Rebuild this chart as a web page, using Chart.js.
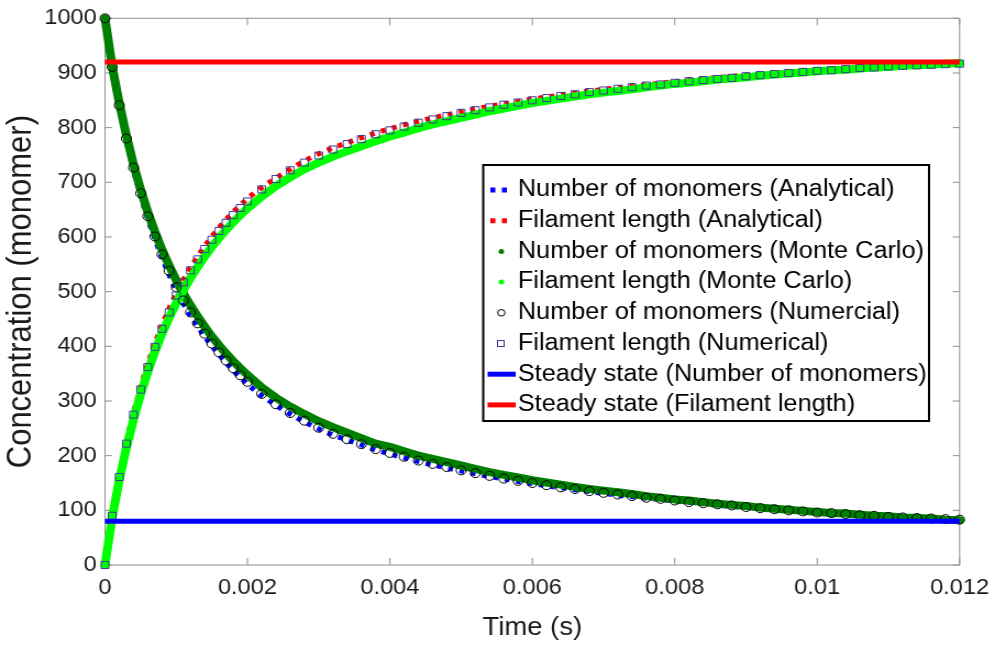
<!DOCTYPE html>
<html>
<head>
<meta charset="utf-8">
<script src="https://cdn.jsdelivr.net/npm/chart.js@4.4.1/dist/chart.umd.min.js"></script>
<style>
  html, body { margin: 0; padding: 0; background: #fff; overflow: hidden; }
  canvas { display: block; }
</style>
</head>
<body>
<!-- drawn narrower and stretched by css: the reference text is wide -->
<canvas id="chart" width="905" height="646" style="width:995px;height:646px"></canvas>
<script>
// time grid of the numerical / Monte Carlo series (s)
const timeSec = [
  0, 0.0001, 0.0002, 0.0003, 0.0004, 0.0005, 0.0006, 0.0007, 0.0008, 0.0009, 0.001,
  0.0011, 0.0012, 0.0013, 0.0014, 0.0015, 0.0016, 0.0017, 0.0018, 0.0019, 0.002,
  0.0022, 0.0024, 0.0026, 0.0028, 0.003, 0.0032, 0.0034, 0.0036, 0.0038, 0.004,
  0.0042, 0.0044, 0.0046, 0.0048, 0.005, 0.0052, 0.0054, 0.0056, 0.0058, 0.006,
  0.0062, 0.0064, 0.0066, 0.0068, 0.007, 0.0072, 0.0074, 0.0076, 0.0078, 0.008,
  0.0082, 0.0084, 0.0086, 0.0088, 0.009, 0.0092, 0.0094, 0.0096, 0.0098, 0.01,
  0.0102, 0.0104, 0.0106, 0.0108, 0.011, 0.0112, 0.0114, 0.0116, 0.0118, 0.012
];

const monomersNumerical = [
  1000, 911, 841, 780, 727, 680, 638, 601, 568, 538, 508,
  484, 462, 442, 423, 405, 389, 374, 360, 347, 335,
  313, 294, 278, 264, 251, 240, 230, 221, 212, 205,
  198, 191, 185, 179, 173, 168, 163, 158, 154, 150,
  146, 142, 139, 135, 132, 129, 126, 123, 121, 118,
  115, 113, 111, 109, 106, 104, 102, 100, 98, 96,
  95, 93, 91, 90, 88, 87, 86, 85, 84, 83
];
const filamentNumerical = [
  0, 90, 161, 222, 275, 321, 362, 399, 432, 462, 493,
  517, 539, 559, 578, 595, 611, 626, 640, 653, 665,
  687, 706, 722, 736, 749, 760, 770, 779, 788, 795,
  802, 809, 815, 821, 827, 832, 837, 842, 846, 850,
  854, 858, 861, 865, 868, 871, 874, 877, 879, 882,
  885, 887, 889, 891, 894, 896, 898, 900, 902, 904,
  905, 907, 909, 910, 912, 913, 914, 915, 916, 917
];

const monomersMonteCarlo = [
  1000, 913, 845, 786, 733, 687, 646, 610, 577, 548, 521,
  497, 475, 455, 436, 418, 402, 387, 373, 360, 348,
  325, 306, 290, 276, 263, 252, 242, 232, 222, 216,
  208, 200, 194, 188, 182, 176, 170, 165, 160, 155,
  151, 147, 143, 139, 136, 133, 130, 126, 123, 120,
  118, 115, 112, 110, 108, 105, 103, 101, 99, 97,
  95, 94, 92, 90, 89, 87, 86, 85, 83, 82
];
const filamentMonteCarlo = [
  0, 86, 155, 214, 266, 312, 353, 390, 423, 452, 479,
  503, 525, 545, 564, 582, 598, 613, 627, 640, 652,
  674, 693, 709, 724, 736, 747, 757, 766, 775, 784,
  791, 799, 806, 812, 818, 824, 830, 835, 840, 845,
  849, 853, 857, 861, 864, 867, 870, 874, 877, 880,
  882, 885, 888, 890, 892, 895, 897, 899, 901, 903,
  905, 906, 908, 910, 911, 913, 914, 915, 917, 918
];

// analytical curves, coarser grid
const timeAnalytical = [0, 0.0001, 0.0002, 0.0003, 0.0005, 0.0007, 0.001, 0.0013, 0.0016, 0.002, 0.0025,
  0.003, 0.0035, 0.004, 0.005, 0.006, 0.007, 0.008, 0.009, 0.01, 0.011, 0.012];
const monomersAnalytical = [1000, 909, 838, 777, 676, 597, 503, 437, 385, 331, 284,
  249, 224, 203, 172, 149, 131, 117, 105, 96, 88, 82];
const filamentAnalytical = [0, 91, 163, 224, 325, 404, 497, 564, 617, 670, 716,
  752, 777, 798, 829, 852, 870, 884, 896, 905, 912, 918];

const timeRange = [0, 0.012];
const steadyMonomers = [80, 80];
const steadyFilament = [920, 920];

const xTickLabels = ['0', '0.002', '0.004', '0.006', '0.008', '0.01', '0.012'];
const yTickLabels = ['0', '100', '200', '300', '400', '500', '600', '700', '800', '900', '1000'];

const FONT = '"Liberation Sans", Arial, Helvetica, sans-serif';
const axisGray = '#8f8f8f';
const textColor = '#1a1a1a';

const pts = (xs, ys) => xs.map((t, i) => ({ x: t, y: ys[i] }));

// MATLAB style box with inward ticks on all four sides
const boxTicks = {
  id: 'boxTicks',
  beforeDatasetsDraw(chart) {
    const { ctx, chartArea: a, scales: { x, y } } = chart;
    const len = 7;
    ctx.save();
    ctx.strokeStyle = axisGray;
    ctx.lineWidth = 1;
    ctx.beginPath();
    ctx.rect(a.left, a.top, a.right - a.left, a.bottom - a.top);
    x.ticks.forEach(t => {
      const px = x.getPixelForValue(t.value);
      ctx.moveTo(px, a.bottom); ctx.lineTo(px, a.bottom - len);
      ctx.moveTo(px, a.top); ctx.lineTo(px, a.top + len);
    });
    y.ticks.forEach(t => {
      const py = y.getPixelForValue(t.value);
      ctx.moveTo(a.left, py); ctx.lineTo(a.left + len * 0.9, py);
      ctx.moveTo(a.right, py); ctx.lineTo(a.right - len * 0.9, py);
    });
    ctx.stroke();
    ctx.restore();
  }
};

// legend box drawn by hand so it can sit where MATLAB put it
const boxLegend = {
  id: 'boxLegend',
  afterDraw(chart) {
    const ctx = chart.ctx;
    const left = 439.5, top = 165, right = 845, bottom = 421;
    const symX = 455, textX = 471, row0 = 190, rowGap = 30.7;
    ctx.save();
    ctx.fillStyle = '#fff';
    ctx.fillRect(left, top, right - left, bottom - top);
    ctx.strokeStyle = '#000';
    ctx.lineWidth = 2;
    ctx.strokeRect(left, top, right - left, bottom - top);
    ctx.font = '23px ' + FONT;
    ctx.textBaseline = 'middle';
    chart.data.datasets.forEach((ds, i) => {
      const yc = row0 + i * rowGap;
      ctx.save();
      if (ds.legendKind === 'dots') {
        ctx.strokeStyle = ds.borderColor;
        ctx.lineWidth = 5;
        ctx.setLineDash([4.5, 6]);
        ctx.beginPath(); ctx.moveTo(446, yc); ctx.lineTo(461.5, yc); ctx.stroke();
      } else if (ds.legendKind === 'dot') {
        ctx.fillStyle = ds.borderColor;
        ctx.beginPath(); ctx.arc(symX + 1, yc, 2.5, 0, Math.PI * 2); ctx.fill();
      } else if (ds.legendKind === 'circle') {
        ctx.strokeStyle = ds.borderColor; ctx.lineWidth = 1;
        ctx.beginPath(); ctx.arc(symX + 1, yc, 3.3, 0, Math.PI * 2); ctx.stroke();
      } else if (ds.legendKind === 'square') {
        ctx.strokeStyle = ds.borderColor; ctx.lineWidth = 1;
        ctx.strokeRect(symX - 2.5, yc - 3, 6, 6);
      } else {
        ctx.strokeStyle = ds.borderColor; ctx.lineWidth = 5;
        ctx.beginPath(); ctx.moveTo(443.5, yc); ctx.lineTo(469, yc); ctx.stroke();
      }
      ctx.restore();
      ctx.fillStyle = '#000';
      ctx.fillText(ds.label, textX, yc);
    });
    ctx.restore();
  }
};

new Chart(document.getElementById('chart'), {
  type: 'scatter',
  data: {
    datasets: [
      {
        label: 'Number of monomers (Analytical)', legendKind: 'dots',
        data: pts(timeAnalytical, monomersAnalytical), showLine: true,
        borderColor: '#0000ff', borderWidth: 5, borderDash: [4.5, 6], pointRadius: 0,
        cubicInterpolationMode: 'monotone', order: 8
      },
      {
        label: 'Filament length (Analytical)', legendKind: 'dots',
        data: pts(timeAnalytical, filamentAnalytical), showLine: true,
        borderColor: '#ff0000', borderWidth: 5, borderDash: [4.5, 6], pointRadius: 0,
        cubicInterpolationMode: 'monotone', order: 7
      },
      {
        label: 'Number of monomers (Monte Carlo)', legendKind: 'dot',
        data: pts(timeSec, monomersMonteCarlo), showLine: true,
        borderColor: '#008000', borderWidth: 8, borderJoinStyle: 'round', borderCapStyle: 'round',
        pointRadius: 0, order: 6
      },
      {
        label: 'Filament length (Monte Carlo)', legendKind: 'dot',
        data: pts(timeSec, filamentMonteCarlo), showLine: true,
        borderColor: '#00ff00', borderWidth: 8, borderJoinStyle: 'round', borderCapStyle: 'round',
        pointRadius: 0, order: 5
      },
      {
        label: 'Number of monomers (Numercial)', legendKind: 'circle',
        data: pts(timeSec, monomersNumerical),
        borderColor: '#000000', backgroundColor: 'rgba(0,0,0,0)', borderWidth: 1,
        pointStyle: 'circle', pointRadius: 4.5, order: 4
      },
      {
        label: 'Filament length (Numerical)', legendKind: 'square',
        data: pts(timeSec, filamentNumerical),
        borderColor: 'rgb(60,60,150)', backgroundColor: 'rgba(0,0,0,0)', borderWidth: 1,
        pointStyle: 'rect', pointRadius: 5, order: 3
      },
      {
        label: 'Steady state (Number of monomers)', legendKind: 'line',
        data: pts(timeRange, steadyMonomers), showLine: true,
        borderColor: '#0000ff', borderWidth: 5, pointRadius: 0, order: 2
      },
      {
        label: 'Steady state (Filament length)', legendKind: 'line',
        data: pts(timeRange, steadyFilament), showLine: true,
        borderColor: '#ff0000', borderWidth: 5, pointRadius: 0, order: 1
      }
    ]
  },
  options: {
    responsive: false,
    animation: false,
    devicePixelRatio: 1,
    clip: false,
    layout: { padding: { top: 18.3, right: 32.2, bottom: 0, left: 0 } },
    plugins: {
      legend: { display: false },
      tooltip: { enabled: false }
    },
    scales: {
      x: {
        type: 'linear', min: 0, max: 0.012,
        grid: { display: false, drawTicks: false },
        border: { display: false },
        ticks: {
          stepSize: 0.002, padding: 10, color: textColor, maxRotation: 0, autoSkip: false,
          font: { family: FONT, size: 21.5 },
          callback: (v, i) => xTickLabels[i]
        },
        title: {
          display: true, text: 'Time (s)', color: textColor,
          font: { family: FONT, size: 25 }, padding: { top: 0, bottom: 3 }
        },
        afterFit(scale) { scale.height = 81; scale.paddingLeft = 0; scale.paddingRight = 0; }
      },
      y: {
        min: 0, max: 1000,
        grid: { display: false, drawTicks: false },
        border: { display: false },
        ticks: {
          stepSize: 100, padding: 7.5, color: textColor, autoSkip: false,
          font: { family: FONT, size: 21.5 },
          callback: (v, i) => yTickLabels[i]
        },
        title: {
          display: true, text: 'Concentration (monomer)', color: textColor,
          font: { family: FONT, size: 31 }, padding: { top: 1, bottom: 0 }
        },
        afterFit(scale) { scale.width = 95.5; scale.paddingTop = 0; scale.paddingBottom = 0; }
      }
    }
  },
  plugins: [boxTicks, boxLegend]
});
</script>
</body>
</html>
